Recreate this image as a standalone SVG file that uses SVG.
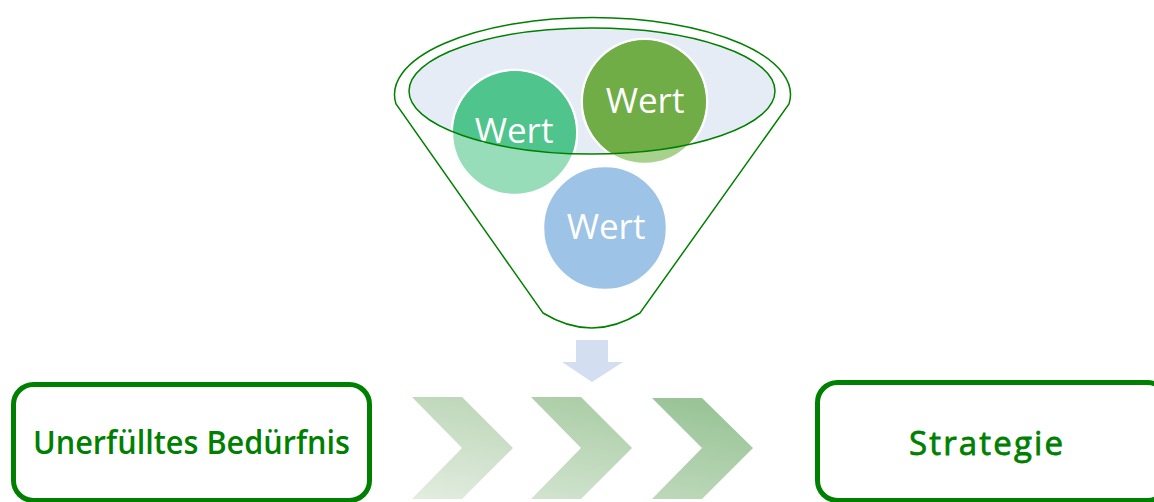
<svg xmlns="http://www.w3.org/2000/svg" width="1154" height="502" viewBox="0 0 1154 502">
<style>
.fl{fill:none;stroke:#008000;stroke-width:1.5}
.wert{font-family:"Open Sans","Noto Sans",sans-serif;font-size:35px;fill:#ffffff;text-anchor:middle}
.box{fill:#ffffff;stroke:#008000;stroke-width:5}
.lbl{font-family:"Open Sans","Noto Sans",sans-serif;fill:#008000;text-anchor:middle}
.cw{stroke:#ffffff;stroke-width:2.5}
</style>
<defs>
<clipPath id="inner"><ellipse cx="592" cy="91" rx="183" ry="63"/></clipPath>
<linearGradient id="c1" x1="0.3" y1="0" x2="0.1" y2="1">
<stop offset="0" stop-color="#BFD8BB"/><stop offset="1" stop-color="#E2ECDF"/>
</linearGradient>
<linearGradient id="c2" x1="0.3" y1="0" x2="0.1" y2="1">
<stop offset="0" stop-color="#ACCEA8"/><stop offset="1" stop-color="#D1E3CE"/>
</linearGradient>
<linearGradient id="c3" x1="0.3" y1="0" x2="0.1" y2="1">
<stop offset="0" stop-color="#99C497"/><stop offset="1" stop-color="#BDD8B9"/>
</linearGradient>
</defs>
<rect width="1154" height="502" fill="#ffffff"/>
<g id="funnel">
<path d="M396,104 A198,77 0 1 1 789,104 L640,313 Q592,343 543,313 Z" fill="#ffffff" stroke="#008000" stroke-width="1.5"/>
<ellipse cx="592" cy="91" rx="183" ry="63" fill="#E6ECF6"/>
</g>
<g id="wert1">
<circle class="cw" cx="514.5" cy="132.5" r="62.5" fill="#97DDBA"/>
<circle cx="514.5" cy="132.5" r="61.5" fill="#4FC48C" clip-path="url(#inner)"/>
<text class="wert" x="514" y="143">Wert</text>
</g>
<g id="wert2">
<circle class="cw" cx="644.5" cy="101.5" r="62.5" fill="#A9D18E"/>
<circle cx="644.5" cy="101.5" r="61.5" fill="#70AD47" clip-path="url(#inner)"/>
<text class="wert" x="645" y="113">Wert</text>
</g>
<g id="wert3">
<circle class="cw" cx="605" cy="228" r="62" fill="#9DC3E6"/>
<text class="wert" x="606" y="239">Wert</text>
</g>
<g id="funnel-rim">
<ellipse class="fl" cx="592" cy="91" rx="183" ry="63"/>
</g>
<g id="connectors">
<path d="M576,340 H608 V362 H623 L592,382 L562,362 H576 Z" fill="#D3DEF0"/>
<path d="M412,397 H462 L513,448 L462,499 H412 L462,448 Z" fill="url(#c1)"/>
<path d="M531,397 H581 L632,448 L581,499 H531 L581,448 Z" fill="url(#c2)"/>
<path d="M652,398 H702 L753,448 L702,499 H652 L702,448 Z" fill="url(#c3)"/>
</g>
<g id="need">
<rect class="box" x="13.5" y="384.5" width="356" height="116" rx="20"/>
<text class="lbl" x="191.5" y="454" font-size="32" font-weight="600" textLength="317" lengthAdjust="spacingAndGlyphs">Unerfülltes Bedürfnis</text>
</g>
<g id="strategy">
<rect class="box" x="817.5" y="382.5" width="350" height="118" rx="20"/>
<text class="lbl" x="986" y="455" font-size="33" stroke="#008000" stroke-width="0.8" textLength="154" lengthAdjust="spacing">Strategie</text>
</g>
</svg>
